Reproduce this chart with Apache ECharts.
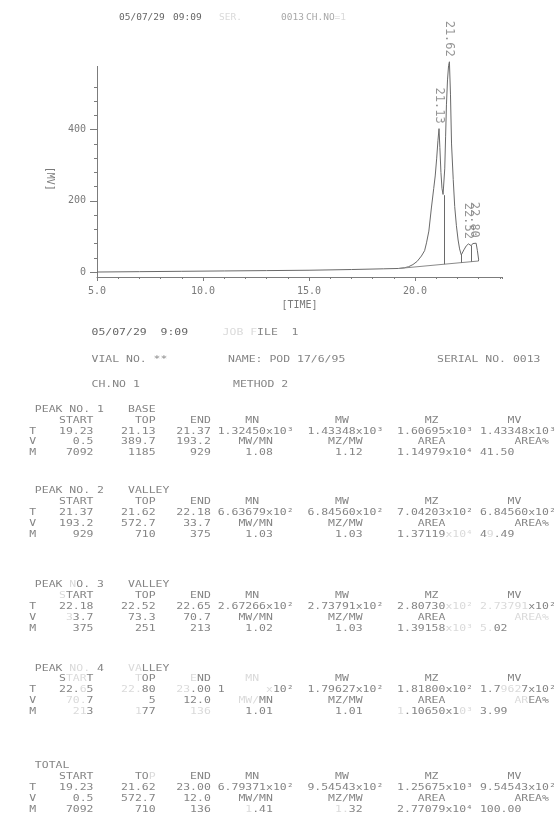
<!DOCTYPE html>
<html><head><meta charset="utf-8">
<script src="https://cdn.jsdelivr.net/npm/echarts@6/dist/echarts.min.js"></script>
<style>html,body{margin:0;padding:0;background:#fff}#c{width:558px;height:829px}</style>
</head><body><div id="c"></div>
<script>
// ---------------- chart data ----------------
const signalTime = [5.0, 7.0, 9.0, 11.0, 13.0, 15.0, 17.0, 18.5, 19.23, 19.5, 19.7, 19.9, 20.1, 20.3, 20.45, 20.54, 20.65, 20.77, 20.88, 20.95, 21.02, 21.08, 21.13, 21.17, 21.22, 21.27, 21.32, 21.37, 21.40, 21.44, 21.48, 21.53, 21.58, 21.62, 21.67, 21.72, 21.80, 21.87, 21.95, 22.03, 22.10, 22.18, 22.30, 22.42, 22.52, 22.60, 22.65, 22.72, 22.80, 22.88, 22.94, 23.00];
const signalMv   = [0, 1, 2, 3, 4, 5, 7, 9, 10, 12, 15, 21, 30, 45, 60, 82, 115, 180, 235, 270, 320, 370, 403, 350, 280, 235, 218, 216, 290, 380, 470, 540, 580, 591, 500, 360, 260, 184, 130, 90, 65, 48, 62, 74, 79, 76, 74, 80, 82, 81, 60, 34];
const peakTime   = [21.13, 21.62, 22.52, 22.80];
const peakTopMv  = [403, 591, 79, 82];
const baseTime   = [19.23, 23.00];
const baseMv     = [10, 31];
const dropTime   = [21.37, 22.18, 22.65, 23.00];
const dropTopMv  = [216, 48, 74, 34];
const dropBaseMv = [22, 26, 29, 31];
const yLabelValues = [0, 200, 400];
const yMinorValues = [40, 80, 120, 160, 240, 280, 320, 360, 440, 480, 520];
const xName = '[TIME]';
const yName = '[MV]';

// ---------------- report text ----------------
const runDate = '05/07/29', runTime = '09:09', runTimeShort = '9:09';
const serialNo = '0013', chNo = '1', jobFile = '1', vialNo = '**';
const sampleName = 'POD 17/6/95', methodNo = '2';
// "~" toggles faded (barely printed) characters
const topHeader = [runDate, runTime, '~SER.~', serialNo, 'CH.NO~=' + chNo + '~'];
const reportLine1 = [runDate, runTimeShort, '~JOB F~ILE  ' + jobFile];
const reportLine2 = ['VIAL NO. ' + vialNo, 'NAME: ' + sampleName, 'SERIAL NO. ' + serialNo];
const reportLine3 = ['CH.NO ' + chNo, 'METHOD ' + methodNo];

const blockTitle = ['PEAK NO.', 'PEAK NO.', 'PEAK ~N~O.', 'PEAK ~NO.~', 'TOTAL'];
const blockNo    = ['1', '2', '3', '4', ''];
const blockKind  = ['BASE', 'VALLEY', 'VALLEY', '~VA~LLEY', ''];
const rowNames   = ['T', 'V', 'M'];
const colHead = [
  ['START', 'TOP', 'END', 'MN', 'MW', 'MZ', 'MV'],
  ['START', 'TOP', 'END', 'MN', 'MW', 'MZ', 'MV'],
  ['~S~TART', 'TOP', 'END', 'MN', 'MW', 'MZ', 'MV'],
  ['S~TAR~T', '~T~OP', '~E~ND', '~MN~', 'MW', 'MZ', 'MV'],
  ['START', 'TO~P~', 'END', 'MN', 'MW', 'MZ', 'MV']
];
const rowT = [
  ['19.23', '21.13', '21.37', '1.32450x10³', '1.43348x10³', '1.60695x10³', '1.43348x10³'],
  ['21.37', '21.62', '22.18', '6.63679x10²', '6.84560x10²', '7.04203x10²', '6.84560x10²'],
  ['22.18', '22.52', '22.65', '2.67266x10²', '2.73791x10²', '2.80730~x10²~', '~2.73791~x10²'],
  ['22.~6~5', '~22.~80', '~23~.00', '1      ~x~10²', '1.79627x10²', '1.81800x10²', '1.7~962~7x10²'],
  ['19.23', '21.62', '23.00', '6.79371x10²', '9.54543x10²', '1.25675x10³', '9.54543x10²']
];
const rowV = [
  ['0.5', '389.7', '193.2', 'MW/MN', 'MZ/MW', 'AREA', 'AREA%'],
  ['193.2', '572.7', '33.7', 'MW/MN', 'MZ/MW', 'AREA', 'AREA%'],
  ['~3~3.7', '73.3', '70.7', 'MW/MN', 'MZ/MW', 'AREA', '~AREA%~'],
  ['~70.~7', '5', '12.0', '~MW/~MN', 'MZ/MW', 'AREA', '~AR~EA%'],
  ['0.5', '572.7', '12.0', 'MW/MN', 'MZ/MW', 'AREA', 'AREA%']
];
const rowM = [
  ['7092', '1185', '929', '1.08', '1.12', '1.14979x10⁴', '41.50'],
  ['929', '710', '375', '1.03', '1.03', '1.37119~x10⁴~', '4~9~.49'],
  ['375', '251', '213', '1.02', '1.03', '1.39158~x10³~', '~5.~02'],
  ['~21~3', '~1~77', '~136~', '1.01', '1.01', '~1~.10650x1~0³~', '3.99'],
  ['7092', '710', '136', '~1~.41', '~1.~32', '2.77079x10⁴', '100.00']
];

// ---------------- layout / style ----------------
const C_TEXT = '#858585', C_DARK = '#666666', C_LIGHT = '#a8a8a8', C_FADE = '#dadada';
const C_LINE = '#6a6a6a', C_AXIS = '#7c7c7c';
const MONO = '"DejaVu Sans Mono"';
const TFONT = '9.5px ' + MONO;
const PITCH = 6.9, X0 = 24.5;
const SX = PITCH / (0.60205 * 9.5);
const BLOCK_Y = [409.5, 491, 585, 668.3, 766];
const ROW_OFF = [0, 10.7, 21.7, 32.4, 43.4];
const RIGHT_END = [9, 18, 26];
const HEAD_COLS = [32, 45, 58, 70];
const SCI_COLS = [28, 41, 54, 66];
const RATIO_COLS = [31, 44, 57, 71];
const MROW_COLS = [32, 45, 54, 66];

function rich(s) {
  const parts = s.split('~');
  let out = '';
  parts.forEach((p, i) => { if (p) out += (i % 2 ? '{f|' : '{n|') + p + '}'; });
  return out;
}
function vlen(s) { return s.replace(/~/g, '').length; }
function txt(x, y, s, color, font, sx) {
  font = font || TFONT; color = color || C_TEXT;
  return {
    type: 'text', x: x, y: y, scaleX: sx === undefined ? SX : sx, silent: true,
    style: {
      text: rich(s), font: font, fill: color, align: 'left', verticalAlign: 'middle',
      rich: { n: { fill: color, font: font }, f: { fill: C_FADE, font: font } }
    }
  };
}
function colX(c) { return X0 + c * PITCH; }
function cellL(c, y, s, color) { return txt(colX(c), y, s, color); }
function cellR(endC, y, s, color) { return txt(colX(endC - vlen(s) + 1), y, s, color); }

const els = [];
// chart header
const topX = [119, 173, 219, 281, 306];
const topCol = [C_DARK, C_DARK, C_LIGHT, C_LIGHT, C_LIGHT];
topHeader.forEach((s, i) => els.push(txt(topX[i], 17.5, s, topCol[i], '9.5px ' + MONO, 1)));
// report lines
const line1X = [91.5, 160.5, 222.6], line2X = [91.5, 228, 437], line3X = [91.5, 233];
reportLine1.forEach((s, i) => els.push(txt(line1X[i], 332.7, s, i < 2 ? C_DARK : C_TEXT)));
reportLine2.forEach((s, i) => els.push(txt(line2X[i], 359.3, s)));
reportLine3.forEach((s, i) => els.push(txt(line3X[i], 385, s)));
// peak tables
BLOCK_Y.forEach((y0, b) => {
  els.push(cellL(1.5, y0 + ROW_OFF[0], blockTitle[b]));
  if (blockNo[b]) els.push(cellL(10.5, y0, blockNo[b]));
  if (blockKind[b]) els.push(cellL(15, y0, blockKind[b]));
  const hy = y0 + ROW_OFF[1];
  colHead[b].forEach((s, k) => els.push(k < 3 ? cellR(RIGHT_END[k], hy, s) : cellL(HEAD_COLS[k - 3], hy, s)));
  const rows = [rowT[b], rowV[b], rowM[b]];
  const sideCols = [SCI_COLS, RATIO_COLS, MROW_COLS];
  rows.forEach((r, ri) => {
    const yy = y0 + ROW_OFF[2 + ri];
    els.push(cellL(0.7, yy, rowNames[ri]));
    r.forEach((s, k) => els.push(k < 3 ? cellR(RIGHT_END[k], yy, s) : cellL(sideCols[ri][k - 3], yy, s)));
  });
});

// ---------------- chart ----------------
const signal = signalTime.map((t, i) => [t, signalMv[i]]);
const baseline = baseTime.map((t, i) => [t, baseMv[i]]);
const peaks = peakTime.map((t, i) => [t, peakTopMv[i]]);
const drops = dropTime.map((t, i) => [{ coord: [t, dropTopMv[i]] }, { coord: [t, dropBaseMv[i]] }]);

const axisFont = { fontFamily: MONO, fontSize: 10, color: '#7a7a7a' };
const chart = echarts.init(document.getElementById('c'), null, { renderer: 'canvas' });
chart.setOption({
  animation: false,
  backgroundColor: '#ffffff',
  grid: { left: 97, right: 56, top: 66.4, bottom: 552, containLabel: false },
  xAxis: [{
    type: 'value', min: 5, max: 24.1, interval: 5, position: 'bottom',
    name: xName, nameLocation: 'middle', nameGap: 23,
    nameTextStyle: axisFont,
    axisLine: { show: true, onZero: false, lineStyle: { color: C_AXIS, width: 1 } },
    axisTick: { show: true, length: 4, lineStyle: { color: C_AXIS } },
    axisLabel: Object.assign({ formatter: v => v.toFixed(1), showMaxLabel: false, margin: 9 }, axisFont),
    splitLine: { show: false }
  }, {
    type: 'value', min: 5, max: 24.1, interval: 1, position: 'bottom',
    axisLine: { show: false, onZero: false },
    axisTick: { show: true, length: 2, lineStyle: { color: C_AXIS } },
    axisLabel: { show: false }, splitLine: { show: false }
  }],
  yAxis: [{
    type: 'value', min: -14, max: 578, position: 'left',
    name: yName, nameLocation: 'middle', nameRotate: -90, nameGap: 42,
    nameTextStyle: Object.assign({ padding: [0, 0, 0, 14] }, axisFont),
    axisLine: { show: true, onZero: false, lineStyle: { color: C_AXIS, width: 1 } },
    axisTick: { show: true, length: 7, customValues: yLabelValues, lineStyle: { color: C_AXIS } },
    axisLabel: Object.assign({ customValues: yLabelValues, margin: 11 }, axisFont),
    splitLine: { show: false }
  }, {
    type: 'value', min: -14, max: 578, position: 'left',
    axisLine: { show: false, onZero: false },
    axisTick: { show: true, length: 3, customValues: yMinorValues, lineStyle: { color: C_AXIS } },
    axisLabel: { show: false }, splitLine: { show: false }
  }],
  series: [{
    type: 'line', name: 'signal', data: signal, xAxisIndex: 0, yAxisIndex: 0,
    showSymbol: false, symbol: 'none', clip: false, smooth: false,
    lineStyle: { color: C_LINE, width: 1 },
    markLine: {
      silent: true, symbol: ['none', 'none'], label: { show: false },
      lineStyle: { color: C_LINE, width: 1, type: 'solid' },
      data: drops
    }
  }, {
    type: 'line', name: 'baseline', data: baseline, showSymbol: false, symbol: 'none',
    lineStyle: { color: '#8a8a8a', width: 1 }
  }, {
    type: 'scatter', name: 'peaks', data: peaks, symbolSize: 0, clip: false,
    itemStyle: { color: 'rgba(0,0,0,0)' },
    label: {
      show: true, position: 'top', distance: 5, rotate: -90, align: 'right', verticalAlign: 'middle',
      formatter: p => p.value[0].toFixed(2), fontFamily: MONO, fontSize: 12, color: '#7a7a7a'
    }
  }],
  graphic: { elements: els }
});
</script>
</body></html>
